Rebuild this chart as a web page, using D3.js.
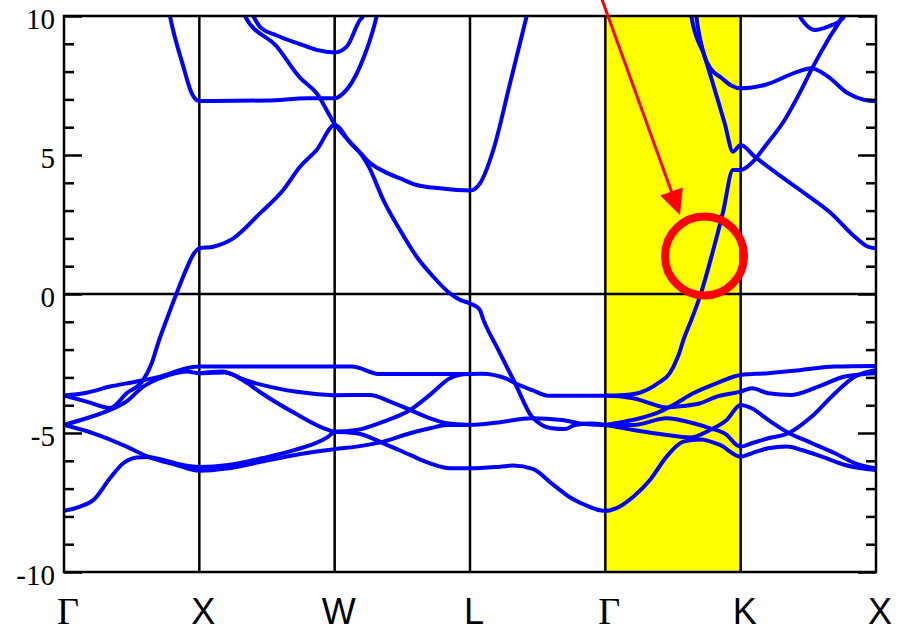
<!DOCTYPE html>
<html lang="en">
<head>
<meta charset="UTF-8">
<title>Band structure</title>
<script src="https://d3js.org/d3.v7.min.js"></script>
<style>
  body { margin: 0; background: #fff; }
  svg { display: block; }
</style>
</head>
<body>
<svg width="898" height="633"></svg>
<script>
// high-symmetry path
const kPoints = [0, 1, 2, 3, 4, 5, 6];
const kLabels = ["Γ", "X", "W", "L", "Γ", "K", "X"];
const energyMajor = [-10, -5, 0, 5, 10];
const energyMinor = [-9, -8, -7, -6, -4, -3, -2, -1, 1, 2, 3, 4, 6, 7, 8, 9];
const highlightK = [4, 5];

// bands: [k, E]
const band01 = [[0,-7.8],[0.118,-7.65],[0.217,-7.41],[0.34,-6.63],[0.438,-6.09],[0.537,-5.88],[0.62,-5.86],[0.72,-5.95],[0.85,-6.12],[1,-6.22],
  [1.214,-6.15],[1.461,-5.91],[1.707,-5.61],[1.953,-5.13],[2,-4.96],
  [2.163,-5.01],[2.36,-5.37],[2.557,-5.79],[2.704,-6.09],[2.852,-6.27],[3,-6.27],
  [3.222,-6.21],[3.32,-6.17],[3.468,-6.3],[3.6,-6.8],[3.75,-7.35],[3.88,-7.65],[3.96,-7.78],[4,-7.8],
  [4.083,-7.7],[4.207,-7.29],[4.33,-6.69],[4.453,-5.85],[4.576,-5.31],[4.7,-5.23],[4.847,-5.43],[5,-5.85],
  [5.082,-5.73],[5.204,-5.55],[5.34,-5.49],[5.45,-5.61],[5.599,-5.85],[5.771,-6.15],[6,-6.33]];
const band02 = [[0,-4.71],[0.217,-5.01],[0.463,-5.49],[0.61,-5.83],[0.83,-6.15],[1,-6.36],
  [1.214,-6.27],[1.461,-6.03],[1.707,-5.79],[1.953,-5.61],[2,-5.58],
  [2.163,-5.49],[2.36,-5.31],[2.557,-5.01],[2.704,-4.83],[2.828,-4.71],[3,-4.71],
  [3.209,-4.62],[3.456,-4.47],[3.678,-4.53],[3.85,-4.68],[4,-4.71],
  [4.207,-4.71],[4.453,-4.47],[4.65,-4.65],[4.774,-4.83],[4.897,-5.07],[4.971,-5.43],[5,-5.49],
  [5.082,-5.37],[5.204,-5.19],[5.352,-5.01],[5.525,-4.41],[5.697,-3.57],[5.845,-2.97],[6,-2.73]];
const band03 = [[0,-4.71],[0.167,-4.47],[0.34,-4.17],[0.46,-3.87],[0.586,-3.33],[0.71,-3.03],[0.907,-2.79],[1,-2.85],
  [1.19,-2.82],[1.337,-3.15],[1.461,-3.57],[1.707,-4.29],[1.953,-4.89],[2,-4.95],
  [2.163,-4.89],[2.36,-4.59],[2.557,-4.17],[2.704,-3.63],[2.852,-3.03],[2.926,-2.91],[3,-2.88],
  [3.087,-2.87],[3.259,-3.03],[3.333,-3.21],[3.456,-3.45],[3.579,-3.66],[4,-3.66],
  [4.207,-3.75],[4.33,-3.93],[4.453,-4.08],[4.576,-4.03],[4.7,-3.93],[4.823,-3.69],[5,-3.51],
  [5.082,-3.39],[5.204,-3.57],[5.377,-3.63],[5.574,-3.33],[5.771,-2.97],[6,-2.85]];
const band04 = [[0,-3.65],[0.167,-3.55],[0.34,-3.33],[0.537,-3.15],[0.71,-2.97],[0.907,-2.67],[1,-2.61],
  [1.5,-2.61],[2,-2.61],[2.126,-2.61],[2.335,-2.88],[2.7,-2.88],[3,-2.88]];
const band05 = [[1,-2.85],[1.165,-2.79],[1.337,-3.09],[1.461,-3.27],[1.707,-3.51],[1.953,-3.63],[2,-3.64],
  [2.261,-3.63],[2.409,-3.87],[2.557,-4.17],[2.704,-4.47],[2.828,-4.65],[3,-4.71]];
const band06 = [[0,-3.65],[0.167,-3.87],[0.34,-4.1],[0.463,-3.57],[0.586,-3.09],[0.648,-2.49],[0.7,-1.7],[0.76,-0.9],[0.83,0],[0.9,0.85],[0.955,1.42],[1,1.64],
  [1.103,1.7],[1.251,2.0],[1.448,2.9],[1.62,3.74],[1.744,4.58],[1.867,5.18],[2,6.08],
  [2.113,5.45],[2.2,5.0],[2.25,4.6],[2.36,3.38],[2.483,2.3],[2.606,1.34],[2.729,0.62],[2.852,0.02],[2.93,-0.22],[3,-0.34],
  [3.07,-0.55],[3.1,-0.94],[3.209,-2.01],[3.333,-3.21],[3.456,-4.41],[3.53,-4.71],[3.604,-4.83],[3.702,-4.86],[3.776,-4.71],[3.9,-4.66],[4,-4.71],
  [4.207,-4.89],[4.453,-5.07],[4.626,-5.16],[4.774,-4.89],[4.897,-4.53],[5,-3.99],
  [5.082,-4.11],[5.204,-4.53],[5.352,-4.99],[5.5,-5.31],[5.697,-5.73],[5.845,-6.09],[6,-6.27]];
const band07 = [[4,-4.71],[4.108,-4.62],[4.256,-4.47],[4.404,-4.23],[4.502,-3.99],[4.65,-3.57],[4.823,-3.21],[5,-2.91],
  [5.204,-2.85],[5.45,-2.73],[5.697,-2.61],[6,-2.59]];
const band08 = [[4,-3.65],[4.12,-3.64],[4.24,-3.57],[4.39,-3.21],[4.476,-2.85],[4.537,-2.25],[4.586,-1.53],[4.635,-0.94],[4.705,0.0],[4.79,1.45],[4.87,2.95],[4.943,4.46],[5,4.46],
  [5.079,4.7],[5.178,5.3],[5.325,6.26],[5.448,7.34],[5.522,8.06],[5.645,9.14],[5.744,9.92],[5.8,10.5]];
const band09 = [[0.76,10.6],[0.783,10],[0.882,8.18],[0.944,7.22],[1,6.94],[1.5,6.96],[1.8,7.04],[2,7.04],[2.064,7.22],[2.187,8.18],[2.311,10],[2.33,10.4]];
const band10 = [[1.3,10.6],[1.337,10],[1.572,8.9],[1.744,7.78],[1.867,7.22],[2,6.12],
  [2.113,5.47],[2.2,5.02],[2.26,4.72],[2.36,4.42],[2.483,4.16],[2.606,3.92],[2.778,3.8],[3,3.72],
  [3.074,3.98],[3.172,5.18],[3.296,7.58],[3.419,10],[3.45,10.6]];
const band11 = [[1.36,10.4],[1.399,10],[1.448,9.61],[1.572,9.3],[1.744,8.99],[1.867,8.78],[2,8.69],[2.089,8.9],[2.187,9.86],[2.21,10],[2.23,10.4]];
const band12 = [[4.62,10.5],[4.635,10],[4.734,8.54],[4.882,6.14],[4.943,5.12],[5,5.36],
  [5.104,4.94],[5.3,4.22],[5.473,3.62],[5.67,2.9],[5.843,2.06],[5.941,1.7],[6,1.64]];
const band13 = [[4.66,10.5],[4.672,10],[4.734,8.54],[4.78,8.1],[4.857,7.78],[4.93,7.5],[5,7.4],
  [5.178,7.52],[5.424,8.0],[5.522,8.12],[5.645,7.82],[5.793,7.22],[5.917,6.98],[6,6.94]];
const band14 = [[5.41,10.3],[5.436,10],[5.473,9.74],[5.547,9.5],[5.645,9.62],[5.756,9.92],[5.78,10.3]];

const bands = [band01, band02, band03, band04, band05, band06, band07,
               band08, band09, band10, band11, band12, band13, band14];

// annotation (data coordinates)
const circleAt = [4.733, 1.367];
const arrowFrom = [3.975, 10.6];
const arrowTo = [4.552, 2.84];

const svg = d3.select("svg");
const x = d3.scaleLinear().domain([0, 6]).range([64, 876]);
const y = d3.scaleLinear().domain([-10, 10]).range([572, 16]);

svg.append("rect").attr("width", 898).attr("height", 633).attr("fill", "#fff");

svg.append("defs").append("clipPath").attr("id", "plot")
  .append("rect")
  .attr("x", x(0)).attr("y", y(10))
  .attr("width", x(6) - x(0)).attr("height", y(-10) - y(10));

// yellow band
svg.append("rect")
  .attr("x", x(highlightK[0])).attr("y", y(10))
  .attr("width", x(highlightK[1]) - x(highlightK[0]))
  .attr("height", y(-10) - y(10))
  .attr("fill", "#ffff00");

// vertical lines at symmetry points + Fermi level
svg.append("g").selectAll("line")
  .data(kPoints.slice(1, -1))
  .join("line")
  .attr("x1", d => x(d)).attr("x2", d => x(d))
  .attr("y1", y(-10)).attr("y2", y(10))
  .attr("stroke", "#000").attr("stroke-width", 2.5);

svg.append("line")
  .attr("x1", x(0)).attr("x2", x(6))
  .attr("y1", y(0)).attr("y2", y(0))
  .attr("stroke", "#000").attr("stroke-width", 2.5);

// bands
const line = d3.line()
  .x(d => x(d[0]))
  .y(d => y(d[1]))
  .curve(d3.curveMonotoneX);

svg.append("g").attr("clip-path", "url(#plot)")
  .selectAll("path")
  .data(bands)
  .join("path")
  .attr("d", line)
  .attr("fill", "none")
  .attr("stroke", "#0000ff")
  .attr("stroke-width", 4)
  .attr("stroke-linejoin", "round");

// frame
svg.append("rect")
  .attr("x", x(0)).attr("y", y(10))
  .attr("width", x(6) - x(0)).attr("height", y(-10) - y(10))
  .attr("fill", "none").attr("stroke", "#000").attr("stroke-width", 2.5);

// y axis ticks (inward, both sides)
function styleAxis(g) {
  g.select(".domain").remove();
  g.selectAll(".tick line").attr("stroke", "#000").attr("stroke-width", 2.5);
}

svg.append("g").attr("transform", `translate(${x(0)},0)`)
  .call(d3.axisLeft(y).tickValues(energyMajor).tickSize(-18).tickPadding(9).tickFormat(d => d))
  .call(styleAxis)
  .call(g => g.selectAll("text")
    .attr("fill", "#000")
    .attr("dy", "0.43em")
    .style("font-family", "'Liberation Serif', 'Times New Roman', serif")
    .style("font-size", "29px"));

svg.append("g").attr("transform", `translate(${x(0)},0)`)
  .call(d3.axisLeft(y).tickValues(energyMinor).tickSize(-10).tickFormat(""))
  .call(styleAxis);

svg.append("g").attr("transform", `translate(${x(6)},0)`)
  .call(d3.axisRight(y).tickValues(energyMajor).tickSize(-18).tickFormat(""))
  .call(styleAxis);

svg.append("g").attr("transform", `translate(${x(6)},0)`)
  .call(d3.axisRight(y).tickValues(energyMinor).tickSize(-10).tickFormat(""))
  .call(styleAxis);

// k-point labels
svg.append("g").selectAll("text")
  .data(kPoints)
  .join("text")
  .attr("x", d => x(d) + 4)
  .attr("y", 624)
  .attr("text-anchor", "middle")
  .attr("fill", "#000")
  .style("font-family", (d, i) => kLabels[i] === "Γ"
    ? "'Liberation Serif', 'Times New Roman', serif"
    : "'Liberation Sans', Arial, sans-serif")
  .style("font-size", (d, i) => kLabels[i] === "Γ" ? "38px" : "36px")
  .text((d, i) => kLabels[i]);

// red annotation: arrow + circle
const p0 = [x(arrowFrom[0]), y(arrowFrom[1])];
const p1 = [x(arrowTo[0]), y(arrowTo[1])];
const len = Math.hypot(p1[0] - p0[0], p1[1] - p0[1]);
const ux = (p1[0] - p0[0]) / len, uy = (p1[1] - p0[1]) / len;
const headLen = 25, headHalf = 12;
const base = [p1[0] - ux * headLen, p1[1] - uy * headLen];

svg.append("line")
  .attr("x1", p0[0]).attr("y1", p0[1])
  .attr("x2", base[0] + ux * 2).attr("y2", base[1] + uy * 2)
  .attr("stroke", "#ff0000").attr("stroke-width", 3);

svg.append("polygon")
  .attr("points", [
    p1,
    [base[0] - uy * headHalf, base[1] + ux * headHalf],
    [base[0] + uy * headHalf, base[1] - ux * headHalf]
  ].map(p => p.join(",")).join(" "))
  .attr("fill", "#ff0000");

svg.append("circle")
  .attr("cx", x(circleAt[0])).attr("cy", y(circleAt[1]))
  .attr("r", 39.5)
  .attr("fill", "none")
  .attr("stroke", "#ff0000")
  .attr("stroke-width", 8);
</script>
</body>
</html>
